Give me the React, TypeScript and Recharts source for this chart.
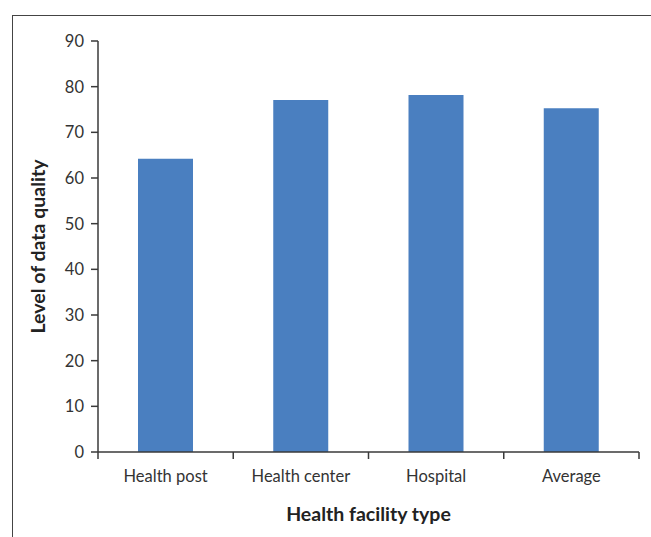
import React from "react"
import { BarChart, Bar, XAxis, YAxis } from "recharts"

const categories = ["Health post", "Health center", "Hospital", "Average"]
const quality = [64.2, 77.1, 78.2, 75.3]
const yTicks = [0, 10, 20, 30, 40, 50, 60, 70, 80, 90]

const data = categories.map((name, i) => ({ name, value: quality[i] }))

const FONT = "Lato, 'Noto Sans', sans-serif"
const AXIS = "#3a3a3a"

// category ticks sit on band boundaries, labels in the middle
function BoundaryTick(props: any) {
  const { x, y, payload, index } = props
  const half = payload?.offset ?? 67.6
  return (
    <g>
      <line x1={x - half} x2={x - half} y1={y - 8} y2={y - 1} stroke={AXIS} strokeWidth={1.5} />
      {index === categories.length - 1 && (
        <line x1={x + half} x2={x + half} y1={y - 8} y2={y - 1} stroke={AXIS} strokeWidth={1.5} />
      )}
      <text x={x} y={y + 22} textAnchor="middle" fontSize={16.5} fill="#333" fontFamily={FONT}>
        {payload.value}
      </text>
    </g>
  )
}

export default function App() {
  return (
    <div style={{ position: "absolute", left: 0, top: 0, width: 651, height: 537, background: "#fff" }}>
      <div
        style={{
          position: "absolute",
          left: 12,
          top: 15,
          right: 0,
          bottom: 0,
          borderLeft: "1.5px solid #444",
          borderTop: "1.5px solid #444",
        }}
      />
      <BarChart
        width={651}
        height={537}
        data={data}
        margin={{ top: 41, right: 12, left: 0, bottom: 10 }}
        style={{ position: "absolute", left: 0, top: 0, fontFamily: FONT }}
      >
        <XAxis
          dataKey="name"
          height={75}
          tickLine={false}
          axisLine={{ stroke: AXIS, strokeWidth: 1.5 }}
          tick={<BoundaryTick />}
          interval={0}
          label={{
            value: "Health facility type",
            position: "insideBottom",
            offset: 6,
            style: { fontSize: 19.5, fontWeight: 700, fill: "#222", fontFamily: FONT },
          }}
        />
        <YAxis
          width={98}
          domain={[0, 90]}
          ticks={yTicks}
          interval={0}
          tickSize={7}
          tickMargin={7}
          tickLine={{ stroke: AXIS, strokeWidth: 1.5 }}
          axisLine={{ stroke: AXIS, strokeWidth: 1.5 }}
          tick={{ fontSize: 16.5, fill: "#333", fontFamily: FONT }}
          label={{
            value: "Level of data quality",
            angle: -90,
            position: "insideLeft",
            offset: 38,
            style: { textAnchor: "middle", fontSize: 19.5, fontWeight: 700, fill: "#222", fontFamily: FONT },
          }}
        />
        <Bar dataKey="value" fill="#4A7FC0" barSize={55} isAnimationActive={false} />
      </BarChart>
    </div>
  )
}
